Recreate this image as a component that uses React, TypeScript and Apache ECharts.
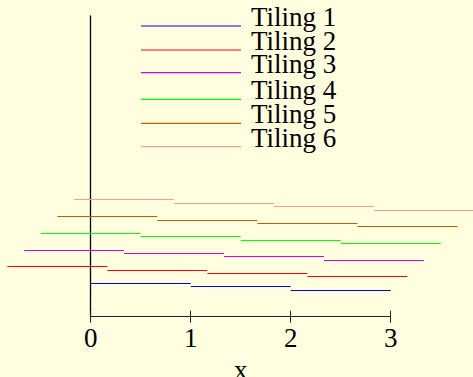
import React, { useEffect, useRef } from "react";
import * as echarts from "echarts";

const tilingNames = ["Tiling 1", "Tiling 2", "Tiling 3", "Tiling 4", "Tiling 5", "Tiling 6"];
const tilingColors = ["#0000ff", "#ff0000", "#dd00dd", "#00ff00", "#c06000", "#ff9a9a"];
const tileWidth = 1;
// segment start x for each tiling
const tiling1Starts = [0, 1, 2];
const tiling2Starts = [-0.833, 0.167, 1.167, 2.167];
const tiling3Starts = [-0.667, 0.333, 1.333, 2.333];
const tiling4Starts = [-0.5, 0.5, 1.5, 2.5];
const tiling5Starts = [-0.333, 0.667, 1.667, 2.667];
const tiling6Starts = [-0.167, 0.833, 1.833, 2.833];
// segment y level for each tiling
const tiling1Y = [0.333, 0.3, 0.267];
const tiling2Y = [0.5, 0.467, 0.433, 0.4];
const tiling3Y = [0.667, 0.633, 0.6, 0.567];
const tiling4Y = [0.833, 0.8, 0.767, 0.733];
const tiling5Y = [1.0, 0.967, 0.933, 0.9];
const tiling6Y = [1.167, 1.133, 1.1, 1.067];
const xTicks = [0, 1, 2, 3];

const allStarts = [tiling1Starts, tiling2Starts, tiling3Starts, tiling4Starts, tiling5Starts, tiling6Starts];
const allY = [tiling1Y, tiling2Y, tiling3Y, tiling4Y, tiling5Y, tiling6Y];

const FONT = "Liberation Serif";
// legend key rows (pixel baselines)
const legendRowY = [26, 50, 72.7, 99.3, 123.3, 146.7];

export default function App() {
  const ref = useRef<HTMLDivElement>(null);
  useEffect(() => {
    if (!ref.current) return;
    const chart = echarts.init(ref.current, null, { renderer: "svg" });
    const series = tilingNames.map((name, i) => ({
      name,
      type: "lines",
      coordinateSystem: "cartesian2d",
      polyline: false,
      clip: false,
      silent: true,
      data: allStarts[i].map((s, j) => ({
        coords: [
          [s, allY[i][j]],
          [s + tileWidth, allY[i][j]],
        ],
      })),
      lineStyle: { color: tilingColors[i], width: 1.2, opacity: 1, curveness: 0 },
      itemStyle: { color: tilingColors[i] },
    }));
    const legendGraphics: any[] = [];
    tilingNames.forEach((name, i) => {
      const y = legendRowY[i];
      legendGraphics.push({
        type: "line",
        shape: { x1: 141, y1: y, x2: 241, y2: y },
        style: { stroke: tilingColors[i], lineWidth: 1.2 },
        silent: true,
      });
      legendGraphics.push({
        type: "text",
        x: 251,
        y: y - 9.1,
        style: {
          text: name,
          fontFamily: FONT,
          fontSize: 27,
          fill: "#000",
          textAlign: "left",
          textVerticalAlign: "middle",
        },
        silent: true,
      });
    });
    chart.setOption({
      animation: false,
      backgroundColor: "#ffffe0",
      textStyle: { fontFamily: FONT },
      grid: {
        left: 90.7,
        right: 82.3,
        top: 16,
        bottom: 60.3,
        containLabel: false,
        outerBoundsMode: "none",
      },
      graphic: legendGraphics,
      xAxis: [
        {
          type: "value",
          min: xTicks[0],
          max: xTicks[xTicks.length - 1],
          interval: 1,
          name: "x",
          nameLocation: "middle",
          nameGap: 37,
          nameTextStyle: { fontFamily: FONT, fontSize: 27, color: "#000" },
          axisLine: { show: true, lineStyle: { color: "#222", width: 1 } },
          axisTick: { show: true, length: 6, lineStyle: { color: "#222" } },
          axisLabel: { fontFamily: FONT, fontSize: 27, color: "#000", margin: 8 },
          splitLine: { show: false },
        },
        {
          type: "value",
          position: "bottom",
          min: xTicks[0],
          max: xTicks[xTicks.length - 1],
          interval: 1,
          axisLine: { show: false },
          axisTick: { show: true, inside: true, length: 6, lineStyle: { color: "#222" } },
          axisLabel: { show: false },
          splitLine: { show: false },
        },
      ],
      yAxis: {
        type: "value",
        min: 0,
        max: 3,
        axisLine: { show: true, lineStyle: { color: "#000", width: 1.3 } },
        axisTick: { show: false },
        axisLabel: { show: false },
        splitLine: { show: false },
      },
      series,
    });
    return () => chart.dispose();
  }, []);
  return <div ref={ref} style={{ width: 473, height: 377, position: "absolute", left: 0, top: 0 }} />;
}
